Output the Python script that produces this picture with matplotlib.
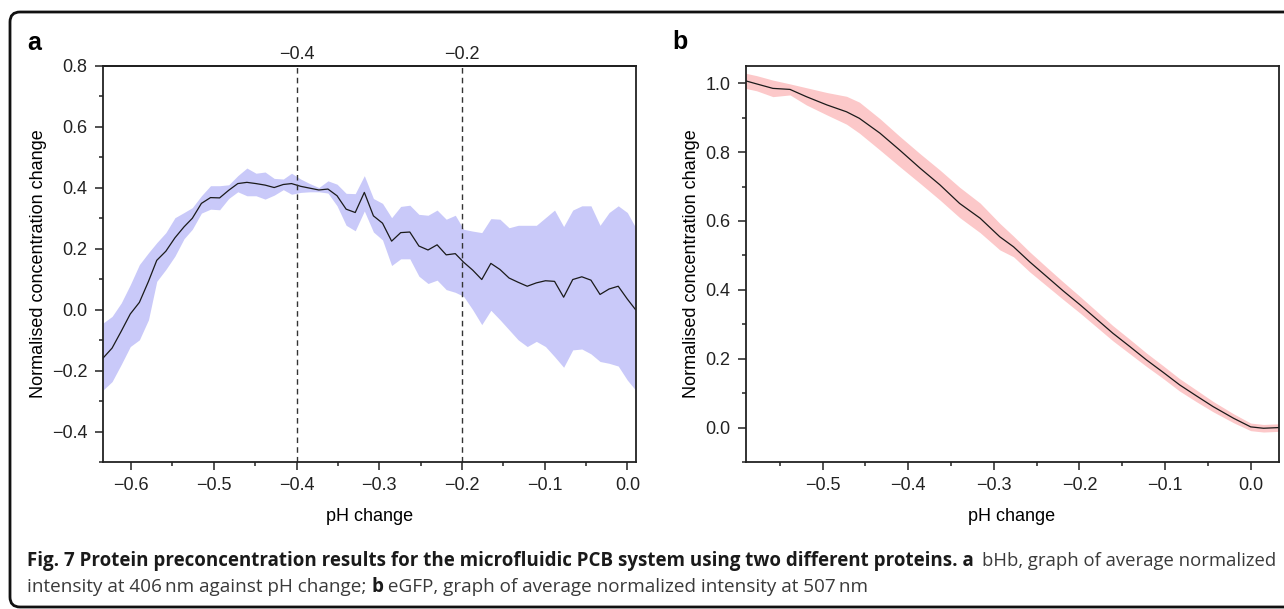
import matplotlib
matplotlib.use("Agg")
import matplotlib.pyplot as plt
from matplotlib.patches import PathPatch
from matplotlib.path import Path
from matplotlib.ticker import MultipleLocator, FuncFormatter
from matplotlib.transforms import IdentityTransform

# panel a: bHb (406 nm)
ph_a = [-0.634, -0.623, -0.612, -0.601, -0.590, -0.579, -0.569, -0.558, -0.547, -0.536,
        -0.526, -0.515, -0.504, -0.493, -0.482, -0.471, -0.460, -0.449, -0.438, -0.427,
        -0.416, -0.406, -0.395, -0.384, -0.373, -0.362, -0.351, -0.340, -0.329, -0.318,
        -0.307, -0.296, -0.285, -0.274, -0.263, -0.252, -0.241, -0.230, -0.219, -0.208,
        -0.198, -0.187, -0.176, -0.165, -0.154, -0.143, -0.132, -0.121, -0.110, -0.099,
        -0.088, -0.077, -0.066, -0.055, -0.044, -0.033, -0.022, -0.011, 0.000, 0.010]
mean_a = [-0.159, -0.126, -0.071, -0.014, 0.024, 0.093, 0.162, 0.192, 0.236, 0.272,
          0.300, 0.349, 0.368, 0.367, 0.392, 0.414, 0.418, 0.414, 0.409, 0.401,
          0.411, 0.414, 0.405, 0.399, 0.393, 0.396, 0.374, 0.330, 0.319, 0.385,
          0.308, 0.284, 0.225, 0.253, 0.255, 0.209, 0.196, 0.213, 0.180, 0.184,
          0.156, 0.130, 0.099, 0.152, 0.132, 0.104, 0.090, 0.077, 0.088, 0.095,
          0.093, 0.041, 0.099, 0.108, 0.097, 0.050, 0.068, 0.077, 0.035, 0.000]
upper_a = [-0.044, -0.022, 0.022, 0.082, 0.148, 0.187, 0.220, 0.253, 0.302, 0.319,
           0.335, 0.374, 0.407, 0.407, 0.410, 0.440, 0.465, 0.448, 0.452, 0.431,
           0.429, 0.448, 0.429, 0.414, 0.401, 0.423, 0.412, 0.382, 0.381, 0.440,
           0.365, 0.349, 0.302, 0.339, 0.343, 0.313, 0.310, 0.327, 0.297, 0.310,
           0.264, 0.258, 0.253, 0.299, 0.297, 0.269, 0.277, 0.277, 0.277, 0.302,
           0.327, 0.273, 0.327, 0.341, 0.341, 0.277, 0.319, 0.341, 0.319, 0.270]
lower_a = [-0.264, -0.236, -0.180, -0.121, -0.099, -0.033, 0.093, 0.132, 0.176, 0.233,
           0.264, 0.317, 0.330, 0.328, 0.365, 0.387, 0.374, 0.374, 0.363, 0.376,
           0.394, 0.379, 0.385, 0.387, 0.387, 0.383, 0.341, 0.277, 0.259, 0.324,
           0.255, 0.229, 0.145, 0.167, 0.167, 0.110, 0.086, 0.097, 0.066, 0.057,
           0.044, 0.000, -0.049, -0.002, -0.033, -0.066, -0.099, -0.121, -0.104, -0.121,
           -0.154, -0.189, -0.132, -0.129, -0.145, -0.170, -0.176, -0.185, -0.231, -0.264]
marks_a = [-0.4, -0.2]

# panel b: eGFP (507 nm)
ph_b = [-0.590, -0.577, -0.558, -0.538, -0.519, -0.495, -0.472, -0.457, -0.433, -0.410,
        -0.386, -0.363, -0.340, -0.316, -0.293, -0.277, -0.258, -0.238, -0.219, -0.199,
        -0.180, -0.161, -0.141, -0.122, -0.102, -0.083, -0.064, -0.044, -0.020, 0.000,
        0.015, 0.033]
mean_b = [1.007, 0.998, 0.985, 0.982, 0.961, 0.937, 0.917, 0.898, 0.855, 0.806,
          0.753, 0.705, 0.651, 0.608, 0.554, 0.525, 0.481, 0.438, 0.397, 0.356,
          0.315, 0.274, 0.235, 0.197, 0.160, 0.124, 0.093, 0.061, 0.027, 0.002,
          -0.002, 0.000]
upper_b = [1.029, 1.022, 1.009, 0.998, 0.987, 0.973, 0.962, 0.945, 0.897, 0.846,
           0.795, 0.748, 0.698, 0.652, 0.593, 0.556, 0.510, 0.465, 0.423, 0.380,
           0.338, 0.296, 0.256, 0.217, 0.179, 0.142, 0.110, 0.076, 0.040, 0.013,
           0.009, 0.011]
lower_b = [0.985, 0.978, 0.961, 0.966, 0.937, 0.908, 0.881, 0.855, 0.806, 0.758,
           0.709, 0.661, 0.610, 0.566, 0.516, 0.496, 0.452, 0.411, 0.372, 0.332,
           0.292, 0.252, 0.214, 0.178, 0.142, 0.106, 0.076, 0.046, 0.014, -0.009,
           -0.013, -0.011]

plt.rcParams['font.family'] = ['Liberation Sans', 'DejaVu Sans']
plt.rcParams['axes.unicode_minus'] = True

W, H, DPI = 1284, 609, 100
fig = plt.figure(figsize=(W / DPI, H / DPI), dpi=DPI)

def fmt(v, pos):
    s = "%.1f" % v
    if s == "-0.0":
        s = "0.0"
    return s.replace("-", "\u2212")

def style(ax):
    for sp in ax.spines.values():
        sp.set_linewidth(1.3)
        sp.set_color('#222222')
    ax.tick_params(which='major', length=6, width=1.1, labelsize=13, pad=5, colors='#222222')
    ax.tick_params(which='minor', length=3, width=1.1, colors='#222222')
    ax.xaxis.set_major_formatter(FuncFormatter(fmt))
    ax.yaxis.set_major_formatter(FuncFormatter(fmt))
    ax.set_xlabel('pH change', fontsize=13, labelpad=10)
    ax.set_ylabel('Normalised concentration change', fontsize=13, labelpad=4)

# panel a
ax1 = fig.add_axes([103 / W, 1 - 462 / H, (635.5 - 103) / W, (462 - 66) / H])
ax1.fill_between(ph_a, lower_a, upper_a, color='#c9c9f9', lw=0)
ax1.plot(ph_a, mean_a, color='#1a1a1a', lw=0.9)
for m in marks_a:
    ax1.axvline(m, color='#333333', lw=1.0, ls=(0, (4, 3)))
ax1.set_xlim(-0.634, 0.0099)
ax1.set_ylim(-0.5, 0.8)
ax1.xaxis.set_major_locator(MultipleLocator(0.1))
ax1.xaxis.set_minor_locator(MultipleLocator(0.05))
ax1.yaxis.set_major_locator(MultipleLocator(0.2))
ax1.yaxis.set_minor_locator(MultipleLocator(0.1))
style(ax1)
top = ax1.secondary_xaxis('top')
top.set_xticks(marks_a)
top.xaxis.set_major_formatter(FuncFormatter(fmt))
top.tick_params(length=0, labelsize=13, pad=2, colors='#222222')
top.spines['top'].set_linewidth(1.3)

# panel b
ax2 = fig.add_axes([745.5 / W, 1 - 462 / H, (1278.6 - 745.5) / W, (462 - 66) / H])
ax2.fill_between(ph_b, lower_b, upper_b, color='#fcc8c9', lw=0)
ax2.plot(ph_b, mean_b, color='#1a1a1a', lw=0.9)
ax2.set_xlim(-0.590, 0.0326)
ax2.set_ylim(-0.1, 1.05)
ax2.xaxis.set_major_locator(MultipleLocator(0.1))
ax2.xaxis.set_minor_locator(MultipleLocator(0.05))
ax2.yaxis.set_major_locator(MultipleLocator(0.2))
ax2.yaxis.set_minor_locator(MultipleLocator(0.1))
style(ax2)

# panel letters
fig.text(27 / W, 1 - 43 / H, 'a', fontsize=18, fontweight='bold', va='center', ha='left')
fig.text(672 / W, 1 - 42 / H, 'b', fontsize=18, fontweight='bold', va='center', ha='left')

# rounded frame, open on the right (runs off the picture)
r = 10
top_y, bot_y, left_x = H - 12, H - 607, 10
verts = [(W, top_y), (left_x + r, top_y), (left_x, top_y), (left_x, top_y - r),
         (left_x, bot_y + r), (left_x, bot_y), (left_x + r, bot_y), (W, bot_y)]
codes = [Path.MOVETO, Path.LINETO, Path.CURVE3, Path.CURVE3,
         Path.LINETO, Path.CURVE3, Path.CURVE3, Path.LINETO]
fig.patches.append(PathPatch(Path(verts, codes), transform=IdentityTransform(),
                             fill=False, lw=2, ec='#111111'))

# caption, each line fitted to its width in the reference
cap_font = ['Open Sans', 'DejaVu Sans']
fig.canvas.draw()
rend = fig.canvas.get_renderer()

def piece(x, y, s, size, bold=False, ha='left'):
    t = fig.text(x, H - y, s, transform=IdentityTransform(), ha=ha, va='baseline',
                 fontsize=size, family=cap_font,
                 fontweight='bold' if bold else 'normal',
                 color='#1a1a1a' if bold else '#3a3a3a')
    return t

def fit(t, width):
    w = t.get_window_extent(rend).width
    t.set_fontsize(t.get_fontsize() * width / w)
    return t.get_window_extent(rend).x1

bold1 = piece(27, 566, 'Fig. 7 Protein preconcentration results for the microfluidic PCB system '
                       'using two different proteins. a', 13, bold=True)
x1 = fit(bold1, 938)

line2 = piece(27, 592, 'intensity at 406\u2009nm against pH change; b eGFP, graph of average '
                       'normalized intensity at 507\u2009nm', 13)
fit(line2, 835)
rsize = line2.get_fontsize()
line2.remove()

rest1 = piece(x1 + 8, 566, 'bHb, graph of average normalized', rsize)
fit(rest1, 1276 - (x1 + 8))
x = piece(27, 592, 'intensity at 406\u2009nm against pH change; ', rsize).get_window_extent(rend).x1
x = piece(x, 592, 'b', rsize, bold=True).get_window_extent(rend).x1
piece(x, 592, ' eGFP, graph of average normalized intensity at 507\u2009nm', rsize)

fig.savefig('out.png', dpi=DPI)
